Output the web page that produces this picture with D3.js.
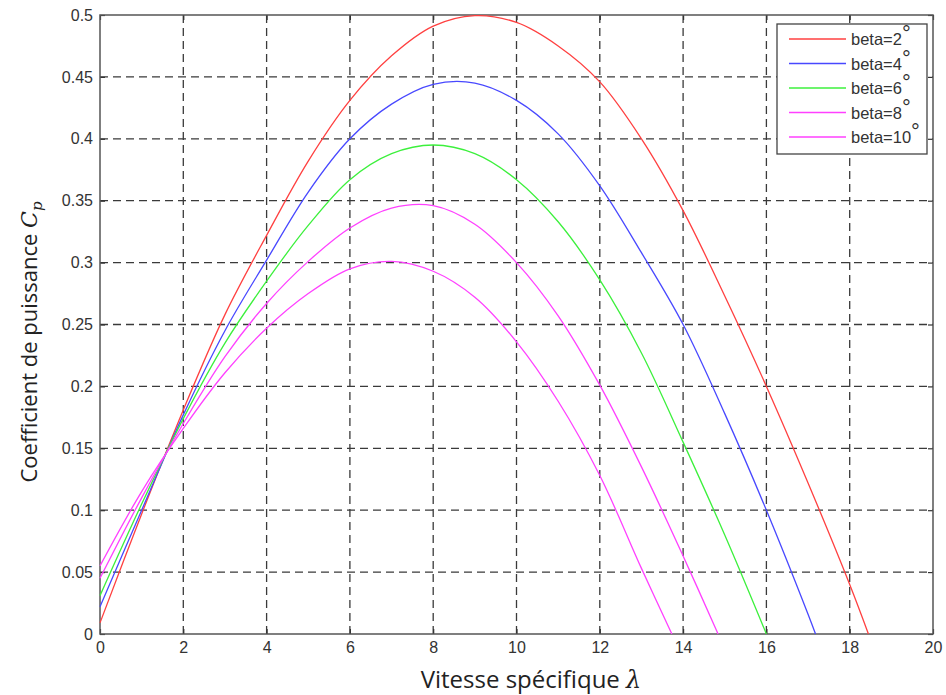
<!DOCTYPE html>
<html>
<head>
<meta charset="utf-8">
<script src="https://cdn.jsdelivr.net/npm/d3@7"></script>
<style>
  body { margin: 0; background: #fff; }
  svg { display: block; }
  .tick-label { font-family: "Liberation Sans", Arial, sans-serif; font-size: 16px; fill: #333; }
  .axis-title { font-family: "Open Sans", "Noto Sans", sans-serif; fill: #222; }
  .legend-text { font-family: "Liberation Sans", Arial, sans-serif; font-size: 16.5px; fill: #333; }
</style>
</head>
<body>
<script>
// values (lambda, Cp)
var betas = ['2', '4', '6', '8', '10']
var colors = ['#ff4040', '#4848ff', '#3cf03c', '#ff40ff', '#ff40ff']

var lam2  = [0, 1, 2, 3, 4, 5, 6, 7, 8, 9, 10, 11, 12, 13, 14, 15, 16, 17, 18, 18.45]
var cp2   = [0.009, 0.097, 0.181, 0.258, 0.322, 0.382, 0.431, 0.467, 0.491, 0.4995, 0.494, 0.475, 0.446, 0.400, 0.342, 0.273, 0.200, 0.122, 0.040, 0]
var lam4  = [0, 1, 2, 3, 4, 5, 6, 7, 8, 9, 10, 11, 12, 13, 14, 15, 16, 17, 17.18]
var cp4   = [0.022, 0.100, 0.177, 0.245, 0.302, 0.357, 0.400, 0.428, 0.444, 0.445, 0.431, 0.404, 0.362, 0.308, 0.250, 0.178, 0.100, 0.016, 0]
var lam6  = [0, 1, 2, 3, 4, 5, 6, 7, 8, 9, 10, 11, 12, 13, 14, 15, 16]
var cp6   = [0.031, 0.105, 0.174, 0.235, 0.285, 0.330, 0.367, 0.388, 0.395, 0.388, 0.367, 0.333, 0.286, 0.227, 0.155, 0.080, 0]
var lam8  = [0, 1, 2, 3, 4, 5, 6, 7, 8, 9, 10, 11, 12, 13, 14, 14.84]
var cp8   = [0.045, 0.110, 0.170, 0.224, 0.267, 0.301, 0.328, 0.344, 0.346, 0.331, 0.300, 0.257, 0.201, 0.135, 0.063, 0]
var lam10 = [0, 1, 2, 3, 4, 5, 6, 7, 8, 9, 10, 11, 12, 13, 13.73]
var cp10  = [0.055, 0.115, 0.166, 0.211, 0.247, 0.275, 0.295, 0.301, 0.293, 0.272, 0.236, 0.188, 0.128, 0.053, 0]

var xTicks = [0, 2, 4, 6, 8, 10, 12, 14, 16, 18, 20]
var yTicks = [0, 0.05, 0.1, 0.15, 0.2, 0.25, 0.3, 0.35, 0.4, 0.45, 0.5]

var lams = [lam2, lam4, lam6, lam8, lam10]
var cps = [cp2, cp4, cp6, cp8, cp10]

var W = 946, H = 695
var svg = d3.select('body').append('svg').attr('width', W).attr('height', H)

var x = d3.scaleLinear().domain([0, 20]).range([100, 933])
var y = d3.scaleLinear().domain([0, 0.5]).range([634, 15])

// grid
var grid = svg.append('g')
grid.selectAll('.vg').data(xTicks.slice(1, -1)).enter().append('line')
    .attr('x1', d => x(d)).attr('x2', d => x(d))
    .attr('y1', y(0)).attr('y2', y(0.5))
    .attr('stroke', '#3a3a3a').attr('stroke-width', 1.3)
    .attr('stroke-dasharray', '8,5')
grid.selectAll('.hg').data(yTicks.slice(1, -1)).enter().append('line')
    .attr('y1', d => y(d)).attr('y2', d => y(d))
    .attr('x1', x(0)).attr('x2', x(20))
    .attr('stroke', '#3a3a3a').attr('stroke-width', 1.3)
    .attr('stroke-dasharray', '8,5')

// axes (matlab style: box with inward ticks)
var xAxis = d3.axisBottom(x).tickValues(xTicks).tickSize(-5).tickPadding(8)
var yAxis = d3.axisLeft(y).tickValues(yTicks).tickSize(-5).tickPadding(7)
    .tickFormat(d => d3.format('~g')(d))

var gx = svg.append('g').attr('transform', 'translate(0,' + y(0) + ')').call(xAxis)
var gy = svg.append('g').attr('transform', 'translate(' + x(0) + ',0)').call(yAxis)
var gxt = svg.append('g').attr('transform', 'translate(0,' + y(0.5) + ')')
    .call(d3.axisTop(x).tickValues(xTicks).tickSize(-5).tickFormat(''))
var gyr = svg.append('g').attr('transform', 'translate(' + x(20) + ',0)')
    .call(d3.axisRight(y).tickValues(yTicks).tickSize(-5).tickFormat(''))

;[gx, gy, gxt, gyr].forEach(function(g){
    g.select('.domain').remove()
    g.selectAll('line').attr('stroke', '#333').attr('stroke-width', 1.2)
    g.selectAll('text').attr('class', 'tick-label').attr('fill', null)
})

svg.append('rect')
    .attr('x', x(0)).attr('y', y(0.5))
    .attr('width', x(20) - x(0)).attr('height', y(0) - y(0.5))
    .attr('fill', 'none').attr('stroke', '#555').attr('stroke-width', 1.5)

// curves
var line = d3.line()
    .x(d => x(d[0])).y(d => y(d[1]))
    .curve(d3.curveCatmullRom.alpha(0.5))

var curves = svg.append('g')
betas.forEach(function(b, i){
    var pts = d3.zip(lams[i], cps[i])
    curves.append('path')
        .datum(pts)
        .attr('d', line)
        .attr('fill', 'none')
        .attr('stroke', colors[i])
        .attr('stroke-width', 1.3)
})

// axis titles
svg.append('text')
    .attr('class', 'axis-title')
    .style('font-size', '24px')
    .attr('x', 531).attr('y', 688)
    .attr('text-anchor', 'middle')
    .text('Vitesse spécifique ')
    .append('tspan').style('font-style', 'italic').style('font-family', '"DejaVu Serif", serif').text('λ')

var yt = svg.append('text')
    .attr('class', 'axis-title')
    .style('font-size', '22px')
    .attr('transform', 'translate(37,' + 342 + ') rotate(-90)')
    .attr('text-anchor', 'middle')
yt.append('tspan').text('Coefficient de puissance ')
yt.append('tspan').style('font-style', 'italic').style('font-family', '"DejaVu Serif", serif').text('C')
yt.append('tspan').style('font-style', 'italic').style('font-family', '"DejaVu Serif", serif')
    .style('font-size', '15px').attr('dy', 5).text('p')

// legend
var lg = svg.append('g')
lg.append('rect')
    .attr('x', 777).attr('y', 24).attr('width', 150).attr('height', 130)
    .attr('fill', '#fff').attr('stroke', '#444').attr('stroke-width', 1.3)
var rows = lg.selectAll('.row').data(betas).enter().append('g')
    .attr('transform', (d, i) => 'translate(0,' + (39 + i * 24.5) + ')')
rows.append('line')
    .attr('x1', 789).attr('x2', 846).attr('y1', 0).attr('y2', 0)
    .attr('stroke', (d, i) => colors[i]).attr('stroke-width', 1.3)
var lt = rows.append('text')
    .attr('class', 'legend-text')
    .attr('x', 851).attr('y', 6)
lt.append('tspan').text(d => 'beta=' + d)
lt.append('tspan').attr('dy', -4).attr('dx', 0).attr('font-size', 22).text('°')
</script>
</body>
</html>
